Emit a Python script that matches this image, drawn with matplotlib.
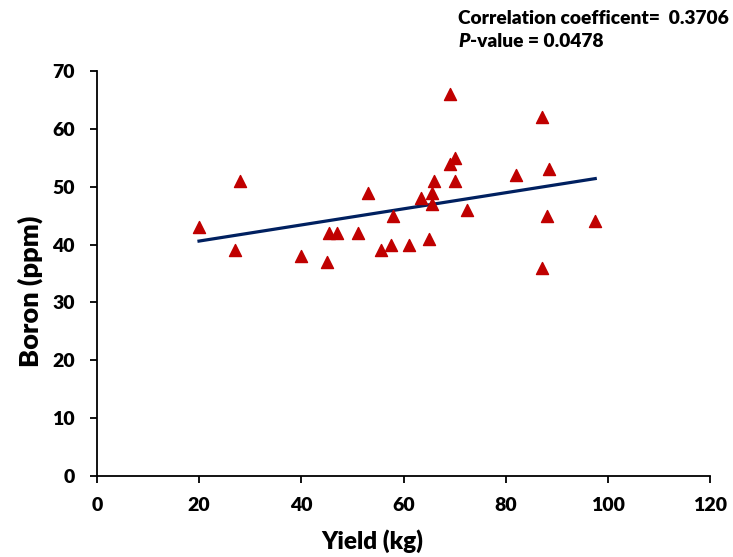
import numpy as np
import matplotlib.pyplot as plt

# data
yield_kg = [20, 27, 28, 40, 45, 45.5, 47, 51, 53, 55.5, 57.5, 58, 61, 63.5, 65,
            65.5, 65.5, 66, 69, 69, 70, 70, 72.5, 82, 87, 87, 88, 88.5, 97.5]
boron_ppm = [43, 39, 51, 38, 37, 42, 42, 42, 49, 39, 40, 45, 40, 48, 41,
             47, 49, 51, 54, 66, 55, 51, 46, 52, 62, 36, 45, 53, 44]

plt.rcParams['font.family'] = ['Lato', 'DejaVu Sans']

fig = plt.figure(figsize=(7.33, 5.57), dpi=100)
ax = fig.add_axes([0.132, 0.1454, 0.837, 0.727])

ax.scatter(yield_kg, boron_ppm, marker='^', s=75, color='#C00000', zorder=3)

# linear trend line
x = np.array(yield_kg)
m, b = np.polyfit(x, boron_ppm, 1)
xs = np.array([x.min(), x.max()])
ax.plot(xs, m * xs + b, color='#002060', linewidth=2.3, zorder=2)

ax.set_xlim(0, 120)
ax.set_ylim(0, 70)
ax.set_xticks(range(0, 121, 20))
ax.set_yticks(range(0, 71, 10))
for s in ['top', 'right']:
    ax.spines[s].set_visible(False)
for s in ['left', 'bottom']:
    ax.spines[s].set_linewidth(1.3)
ax.tick_params(direction='out', length=5, width=1.3, labelsize=14)
ax.tick_params(axis='y', pad=11)
ax.tick_params(axis='x', pad=10)
for lab in ax.get_xticklabels() + ax.get_yticklabels():
    lab.set_fontweight('heavy')

ax.set_xlabel('Yield (kg)', fontsize=17.5, fontweight='heavy')
ax.set_ylabel('Boron (ppm)', fontsize=19.5, fontweight='heavy')
ax.xaxis.set_label_coords(0.449, -0.131)
ax.yaxis.set_label_coords(-0.088, 0.457)

fig.text(0.625, 0.967, 'Correlation coefficent=  0.3706', fontsize=13.8,
         fontweight='heavy', va='center')
ptxt = fig.text(0.625, 0.925, 'P', fontsize=13.8, fontweight='heavy',
                fontstyle='italic', va='center')
ax.annotate('-value = 0.0478', xy=(1, 0), xycoords=ptxt, va='bottom',
            fontsize=13.8, fontweight='heavy', annotation_clip=False)

fig.savefig('out.png', dpi=100)
